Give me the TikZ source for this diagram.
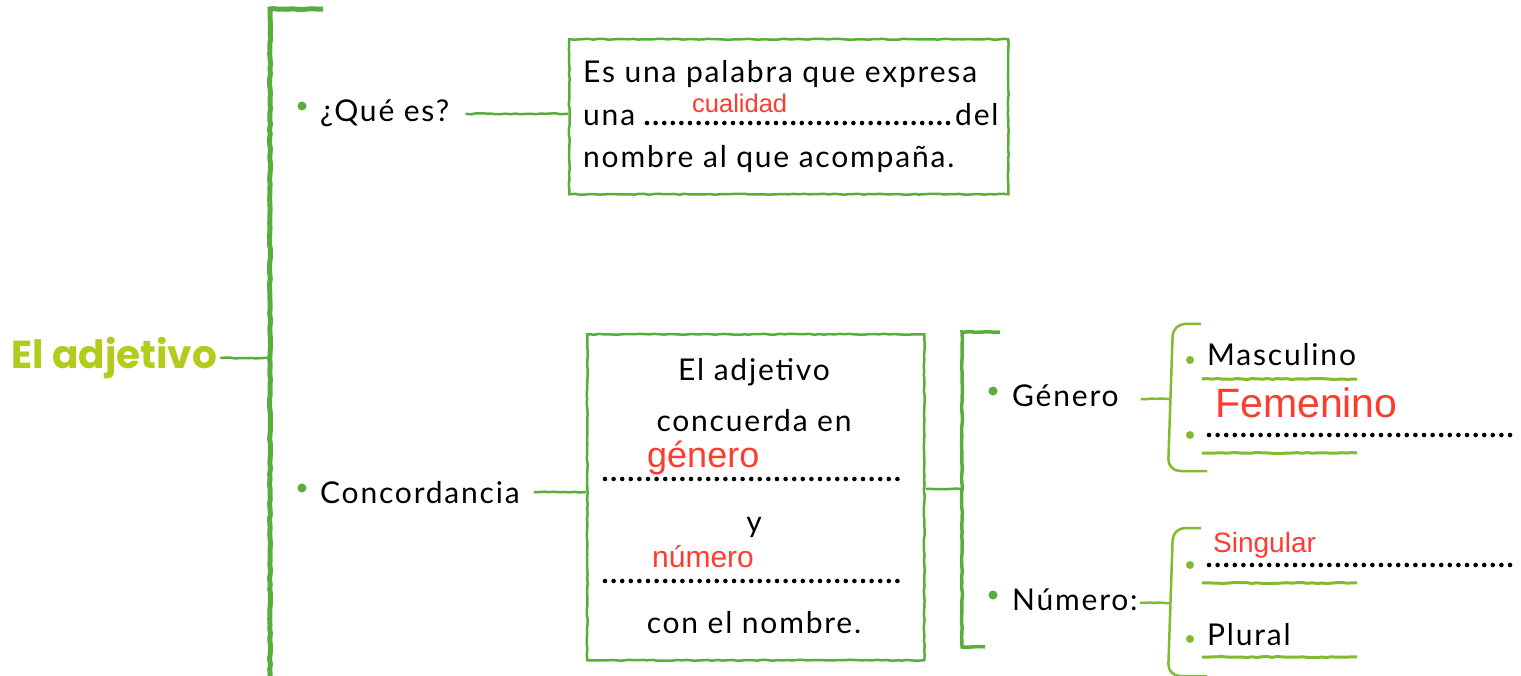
\documentclass[tikz,border=0pt]{standalone}
\usepackage{fontspec}
\setmainfont{Lato}[LetterSpace=6]
\newfontfamily\redfont{Liberation Sans}
\newfontfamily\titlefont{Poppins}
\usetikzlibrary{
    decorations.pathmorphing,
    calc,
    positioning
}
\definecolor{leaf}{HTML}{57AE3B}
\definecolor{moss}{HTML}{80BC2E}
\definecolor{lime}{HTML}{B3CB1A}
\definecolor{pen}{HTML}{FF3B30}
\pgfmathsetseed{7}

\begin{document}
\begin{tikzpicture}[x=1pt, y=-1pt,
    hand/.style={decorate, decoration={random steps, segment length=5pt, amplitude=0.5pt}},
    brace/.style={draw=leaf, line width=5pt, hand},
    subbrace/.style={draw=leaf, line width=3.5pt, hand},
    curly/.style={draw=moss, line width=2.5pt, rounded corners=12pt},
    link/.style={draw=leaf, line width=2.5pt, hand},
    uline/.style={draw=moss, line width=3pt, hand},
    box/.style={draw=leaf, line width=2.5pt, hand, inner sep=0pt},
    word/.style={inner sep=0pt, font=\fontsize{30}{34}\selectfont},
    answer/.style={inner sep=0pt, text=pen, anchor=base west},
    bullet/.style={circle, fill=leaf, inner sep=0pt, minimum size=9pt},
    smallbullet/.style={circle, fill=moss, inner sep=0pt, minimum size=8pt},
    dots/.style={line width=4.6pt, line cap=round, dash pattern=on 0pt off 8.6pt}
]
                    \useasboundingbox (0,0) rectangle (1521,676);

                    \node[font=\titlefont\bfseries\fontsize{39}{41}\selectfont, text=lime, inner sep=3pt, anchor=west] (title) at (8,358) {El adjetivo};
                    \coordinate (mainmid) at (270,358);
                    \draw[brace] (323,9) -- (270,9) -- (270,690);

                    \node[bullet] (qdot) at (302,106) {};
                    \node[word, anchor=base west] (que) at (320,122) {¿Qué es?};
                    \node[box, minimum width=439pt, minimum height=155pt, anchor=north west] (def) at (568,38) {};
                    \node[word, anchor=base west] (def1) at (583,83) {Es una palabra que expresa};
                    \node[word, anchor=base west] (def2) at (583,126) {una};
                    \node[word, anchor=base west] (def3) at (583,168) {nombre al que acompaña.};
                    \node[word, anchor=base west] (def4) at (955,126) {del};
                    \draw[dots] (647,123) -- (948,123);
                    \node[answer, font=\redfont\fontsize{25.5}{27}\selectfont] (cual) at (692,113) {cualidad};

                    \node[bullet] (cdot) at (302,488) {};
                    \node[word, anchor=base west] (conc) at (320,503) {Concordancia};
                    \node[box, minimum width=337pt, minimum height=326pt, anchor=north west] (agree) at (586,333) {};
                    \node[word, anchor=base] (ag1) at (754,381) {El adjetivo};
                    \node[word, anchor=base] (ag2) at (754,431) {concuerda en};
                    \node[word, anchor=base] (ag3) at (754,532) {y};
                    \node[word, anchor=base] (ag4) at (754,633) {con el nombre.};
                    \draw[dots] (605,479) -- (905,479);
                    \draw[dots] (605,581) -- (905,581);
                    \node[answer, font=\redfont\fontsize{36}{38}\selectfont] (genans) at (647,467) {género};
                    \node[answer, font=\redfont\fontsize{30}{32}\selectfont] (numans) at (652,567) {número};

                    \coordinate (midtwo) at (962,489);
                    \draw[subbrace] (1000,332) -- (962,332) -- (962,647) -- (985,647);

                    \node[bullet] (gdot) at (993,391) {};
                    \node[word, anchor=base west] (gen) at (1012,406) {Género};
                    \coordinate (midthree) at (1170,399);
                    \draw[curly] (1201,324) -- (1173,324) -- (1168,471) -- (1207,471);

                    \node[smallbullet] (mdot) at (1190,360) {};
                    \node[word, anchor=base west] (masc) at (1207,366) {Masculino};
                    \draw[uline] (1202,379) -- (1357,379);
                    \node[answer, font=\redfont\fontsize{41}{43}\selectfont] (fem) at (1215,417) {Femenino};
                    \node[smallbullet] (fdot) at (1190,435) {};
                    \draw[dots] (1209,435) -- (1510,435);
                    \draw[uline] (1202,453) -- (1357,453);

                    \node[bullet] (ndot) at (993,595) {};
                    \node[word, anchor=base west] (num) at (1012,610) {Número:};
                    \coordinate (midfour) at (1170,603);
                    \draw[curly] (1201,528) -- (1173,528) -- (1168,676) -- (1207,676);

                    \node[answer, font=\redfont\fontsize{28}{30}\selectfont] (sing) at (1213,552) {Singular};
                    \node[smallbullet] (sdot) at (1190,565) {};
                    \draw[dots] (1209,565) -- (1510,565);
                    \draw[uline] (1202,583) -- (1357,583);
                    \node[smallbullet] (pdot) at (1190,639) {};
                    \node[word, anchor=base west] (plur) at (1207,645) {Plural};
                    \draw[uline] (1202,657) -- (1357,657);

                    \draw[link] (title) -- (mainmid);
                    \draw[link] ([xshift=16pt]que.east) -- (que.east -| def.west);
                    \draw[link] ([xshift=14pt]conc.east) -- (conc.east -| agree.west);
                    \draw[link] (agree.east |- midtwo) -- (midtwo);
                    \draw[link, moss] ([xshift=22pt]gen.east |- midthree) -- (midthree);
                    \draw[link, moss] ([xshift=2pt]num.east |- midfour) -- (midfour);
                \end{tikzpicture}
\end{document}
